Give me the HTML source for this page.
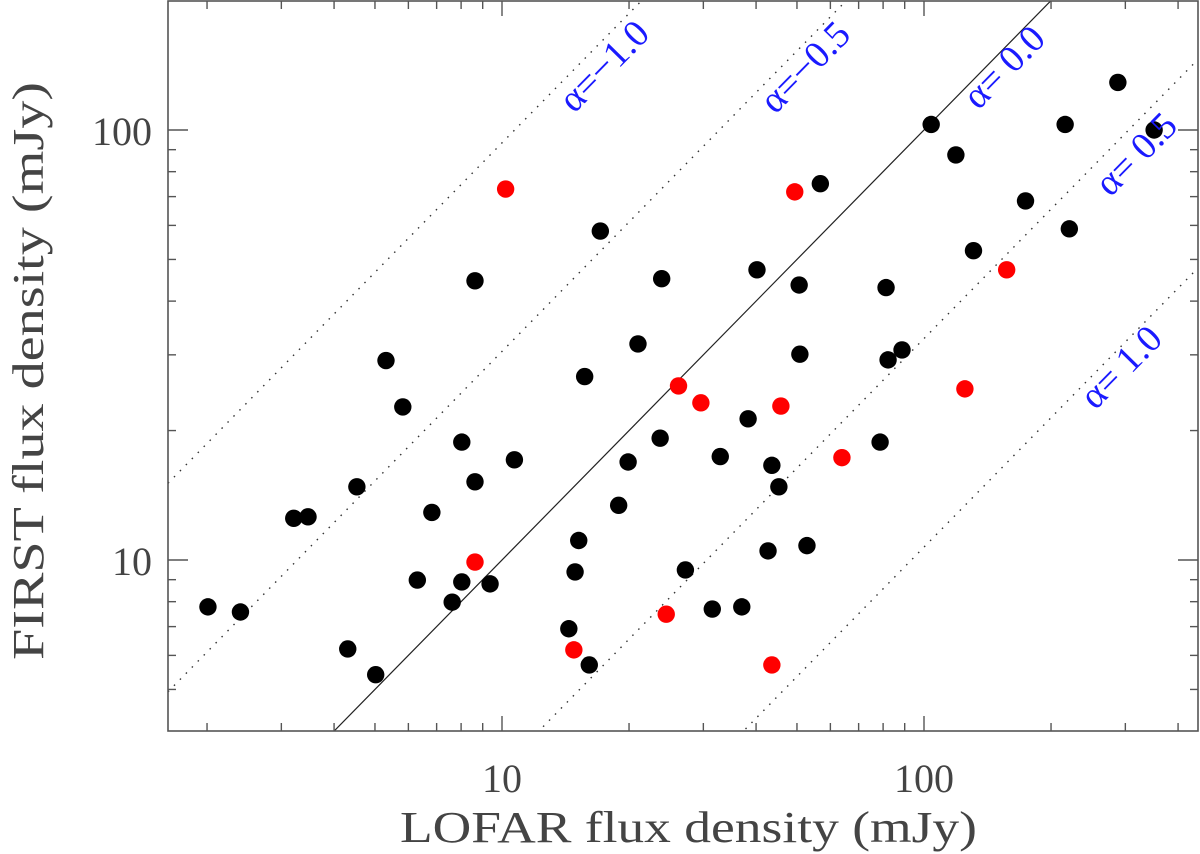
<!DOCTYPE html>
<html><head><meta charset="utf-8"><style>
html,body{margin:0;padding:0;background:#fff;overflow:hidden;width:1200px;height:854px;}
svg{display:block;}
text{font-family:"Liberation Serif",serif;}
</style></head><body>
<svg id="chart" width="1200" height="854" viewBox="0 0 1200 854" xmlns="http://www.w3.org/2000/svg">
<defs><clipPath id="pc"><rect x="168" y="1" width="1030" height="730"/></clipPath></defs>
<g id="lines" clip-path="url(#pc)"></g>
<g id="pts"></g>
<g id="axes"></g>
<g id="lbls"></g>
<text x="400" y="842" font-size="44" fill="#444" textLength="577" lengthAdjust="spacingAndGlyphs">LOFAR flux density (mJy)</text>
<text transform="translate(43,660) rotate(-90)" x="0" y="0" font-size="44" fill="#444" textLength="578" lengthAdjust="spacingAndGlyphs">FIRST flux density (mJy)</text>
</svg>
<script>
const blackX = [17.1,8.63,23.9,21.0,5.31,288,104,216,351,119,56.8,174,221,131,40.2,50.6,81.3,50.8,82.2,88.7,15.7,5.82,8.03,23.7,10.7,19.9,8.63,4.53,6.82,3.21,3.47,18.9,15.2,14.9,6.30,8.03,9.37,27.2,7.62,2.01,2.40,14.4,4.31,16.1,5.02,38.3,78.7,32.9,43.6,45.3,42.7,52.8,31.5,37.0];
const blackY = [58.2,44.6,45.1,31.8,29.1,129,103,103,100,87.5,75.0,68.4,58.9,52.4,47.3,43.6,43.0,30.1,29.2,30.8,26.7,22.7,18.8,19.2,17.1,16.9,15.2,14.8,12.9,12.5,12.6,13.4,11.1,9.38,8.98,8.89,8.80,9.48,7.98,7.78,7.57,6.92,6.21,5.70,5.41,21.3,18.8,17.4,16.6,14.8,10.5,10.8,7.69,7.78];
const redX = [10.2,49.4,157,26.2,29.6,45.8,125,63.9,8.63,24.5,14.8,43.6];
const redY = [72.9,71.8,47.3,25.4,23.2,22.8,25.0,17.3,9.89,7.48,6.18,5.70];
const alphas = [-1.0,-0.5,0.0,0.5,1.0];
const alphaLabels = ["α=−1.0","α=−0.5","α= 0.0","α= 0.5","α= 1.0"];
const xMajor = [10,100];
const xMinor = [2,3,4,5,6,7,8,9,20,30,40,50,60,70,80,90,200,300,400];
const yMajor = [10,100];
const yMinor = [5,6,7,8,9,20,30,40,50,60,70,80,90];
const freqRatio = 1400/150;

const L=168,R=1198,T=1,B=731;
function X(v){return 502+422*(Math.log10(v)-1);}
function Y(v){return 560-430*(Math.log10(v)-1);}
const xMin=Math.pow(10,1+(L-502)/422), xMax=Math.pow(10,1+(R-502)/422);
const NS="http://www.w3.org/2000/svg";
function mk(tag,attrs,parent){const e=document.createElementNS(NS,tag);for(const k in attrs)e.setAttribute(k,attrs[k]);parent.appendChild(e);return e;}

const gl=document.getElementById('lines');
alphas.forEach((a,i)=>{
  const f=Math.pow(freqRatio,-a);
  const ln=mk('line',{x1:X(xMin),y1:Y(xMin*f),x2:X(xMax),y2:Y(xMax*f),stroke:a===0?'#222':'#333','stroke-width':a===0?1.2:1.4,'stroke-dasharray':a===0?'none':'1.5,7'},gl);
  
  
});

const gp=document.getElementById('pts');
blackX.forEach((v,i)=>{
  const c=mk('circle',{cx:X(v),cy:Y(blackY[i]),r:8.7,fill:'#000'},gp);
  
  
});
redX.forEach((v,i)=>{
  const c=mk('circle',{cx:X(v),cy:Y(redY[i]),r:8.7,fill:'#ff0000'},gp);
  
  
});

const ga=document.getElementById('axes');
const frame=mk('rect',{x:L,y:T,width:R-L,height:B-T,fill:'none',stroke:'#555','stroke-width':1.6},ga);


function xt(v,len){const x=X(v);mk('line',{x1:x,y1:B,x2:x,y2:B-len,stroke:'#555','stroke-width':1.4},ga);mk('line',{x1:x,y1:T,x2:x,y2:T+len,stroke:'#555','stroke-width':1.4},ga);}
function yt(v,len){const y=Y(v);mk('line',{x1:L,y1:y,x2:L+len,y2:y,stroke:'#555','stroke-width':1.4},ga);mk('line',{x1:R,y1:y,x2:R-len,y2:y,stroke:'#555','stroke-width':1.4},ga);}
xMinor.forEach(v=>xt(v,8));xMajor.forEach(v=>xt(v,15));
yMinor.forEach(v=>yt(v,8));yMajor.forEach(v=>yt(v,20));
xMajor.forEach(v=>{
  const t=mk('text',{x:X(v),y:792,'font-size':40,fill:'#444','text-anchor':'middle'},ga);
  t.textContent=String(v);
  
  
});
yMajor.forEach(v=>{
  const t=mk('text',{x:152,y:Y(v)+15,'font-size':40,fill:'#444','text-anchor':'end'},ga);
  t.textContent=String(v);
  
  
});

const gb=document.getElementById('lbls');
const lblCenters=[[605,67],[806,68],[1005,68],[1137,155],[1122,368]];
alphaLabels.forEach((s,i)=>{
  const [cx,cy]=lblCenters[i];
  const t=mk('text',{x:0,y:11,'font-size':38,fill:'#1a1aff','text-anchor':'middle',transform:`translate(${cx},${cy}) rotate(-45.5)`},gb);
  t.textContent=s;
  
  
});
</script>
</body></html>
